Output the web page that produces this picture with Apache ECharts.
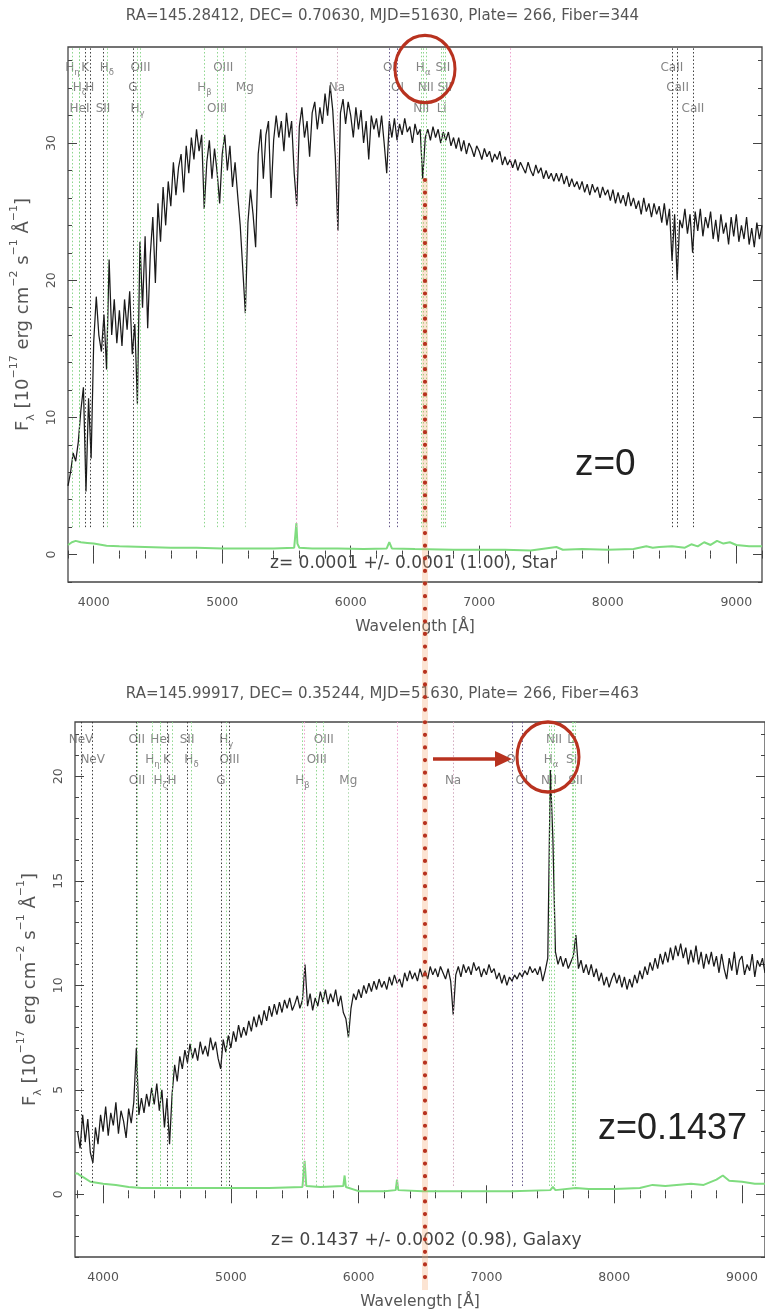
<!DOCTYPE html>
<html><head><meta charset="utf-8">
<script src="https://cdn.jsdelivr.net/npm/echarts@6/dist/echarts.min.js"></script>
<style>html,body{margin:0;padding:0;background:#fff}#c{width:765px;height:1311px}</style>
</head><body><div id="c"></div>
<script>
// ---------------- DATA ----------------
const TITLE_STAR = 'RA=145.28412, DEC= 0.70630, MJD=51630, Plate= 266, Fiber=344';
const TITLE_GALAXY = 'RA=145.99917, DEC= 0.35244, MJD=51630, Plate= 266, Fiber=463';
const FIT_STAR = 'z= 0.0001 +/- 0.0001 (1.00), Star';
const FIT_GALAXY = 'z= 0.1437 +/- 0.0002 (0.98), Galaxy';
const NOTE_STAR = 'z=0';
const NOTE_GALAXY = 'z=0.1437';
const Z_STAR = 0.0001, Z_GALAXY = 0.1437;

// flux sampled every 20 Å starting at 3800 Å
const WAVE_START = 3800, WAVE_STEP = 20;
const fluxStar = [
 5.0, 6.0, 7.4, 6.8, 8.2, 10.5, 12.2, 4.6, 11.4, 7.0,
 15.5, 18.8, 16.0, 14.8, 17.5, 13.5, 21.5, 16.0, 18.6, 15.4,
 17.8, 15.2, 18.6, 16.4, 19.2, 14.6, 16.8, 11.0, 22.8, 18.0,
 23.2, 16.5, 21.8, 24.6, 19.8, 25.6, 22.8, 26.8, 24.0, 27.2,
 25.4, 28.6, 26.2, 28.2, 29.2, 26.4, 29.8, 27.8, 30.4, 28.8,
 31.0, 29.4, 30.6, 25.2, 28.6, 30.2, 27.4, 29.6, 27.9, 25.6,
 29.2, 30.6, 28.0, 29.8, 26.8, 28.6, 26.2, 24.0, 20.8, 17.6,
 24.2, 26.6, 24.8, 22.4, 29.2, 31.0, 27.4, 30.6, 31.6, 26.0,
 30.2, 32.0, 30.4, 31.6, 29.4, 32.2, 30.4, 31.6, 27.8, 25.4,
 31.2, 32.6, 30.4, 31.6, 29.0, 32.2, 33.0, 31.0, 32.6, 31.4,
 33.6, 32.0, 34.2, 32.4, 29.0, 23.6, 32.2, 33.2, 31.4, 33.0,
 32.0, 30.4, 32.6, 31.0, 32.4, 30.0, 31.6, 28.8, 32.0, 31.0,
 31.8, 30.4, 32.0, 30.0, 27.8, 31.6, 30.4, 31.8, 30.2, 31.4,
 30.6, 31.8, 30.8, 31.2, 30.0, 31.4, 30.6, 31.0, 27.4, 30.4,
 31.0, 30.2, 31.2, 30.4, 31.0, 30.0, 30.8, 30.2, 30.8, 29.8,
 30.4, 29.6, 30.4, 29.4, 30.2, 29.2, 30.0, 29.6, 29.0, 29.8,
 29.4, 28.8, 29.6, 29.0, 29.4, 28.6, 29.2, 28.8, 29.4, 28.4,
 29.0, 28.4, 28.8, 28.2, 28.8, 28.0, 28.6, 28.2, 27.8, 28.6,
 28.0, 27.6, 28.4, 27.8, 28.2, 27.4, 28.0, 27.4, 27.8, 27.2,
 27.8, 27.2, 27.8, 27.0, 27.6, 26.8, 27.4, 26.8, 27.2, 26.6,
 27.2, 26.4, 27.0, 26.2, 27.0, 26.4, 26.8, 26.0, 26.8, 26.2,
 26.6, 25.8, 26.6, 25.6, 26.4, 25.6, 26.2, 25.4, 26.4, 25.4,
 26.0, 25.2, 25.8, 24.8, 26.0, 25.0, 25.6, 24.6, 25.6, 24.8,
 25.4, 24.2, 25.6, 24.0, 25.2, 21.4, 24.8, 20.0, 24.4, 23.8,
 25.2, 23.4, 24.8, 22.0, 25.0, 23.6, 25.2, 23.2, 24.6, 23.8,
 25.0, 23.0, 24.4, 22.8, 24.8, 23.4, 24.2, 22.6, 24.6, 23.2,
 24.8, 22.8, 24.0, 23.0, 24.6, 22.6, 23.8, 22.4, 24.2, 23.0,
 24.0
];
const fluxGalaxy = [
 3.0, 2.2, 3.8, 2.5, 3.6, 2.0, 1.5, 3.2, 2.4, 3.8,
 3.0, 4.2, 2.8, 3.9, 3.3, 4.4, 2.9, 4.0, 3.5, 2.7,
 4.1, 3.4, 4.4, 7.0, 3.8, 4.6, 3.9, 4.8, 4.2, 5.1,
 4.3, 5.3, 4.0, 5.0, 3.2, 4.6, 2.4, 4.8, 6.2, 5.4,
 6.6, 6.0, 6.9, 6.3, 7.2, 6.5, 7.0, 6.4, 7.3, 6.7,
 7.1, 6.6, 7.5, 6.9, 7.3, 6.5, 6.0, 7.4, 6.8, 7.6,
 7.0, 7.8, 7.3, 8.1, 7.5, 8.0, 7.6, 8.3, 7.8, 8.5,
 8.0, 8.6, 8.1, 8.8, 8.3, 9.0, 8.5, 9.1, 8.6, 9.2,
 8.7, 9.3, 8.9, 9.4, 8.8, 9.1, 9.5, 8.9, 9.3, 11.0,
 9.0, 9.6, 8.8, 9.4, 9.0, 9.7, 9.2, 9.8, 9.1, 9.6,
 9.2, 9.8, 9.0, 9.5, 8.7, 8.4, 7.5, 8.9, 9.6, 9.3,
 9.8, 9.4, 10.0, 9.6, 10.1, 9.7, 10.2, 9.8, 10.3, 9.9,
 10.2, 9.8, 10.4, 10.0, 10.5, 10.1, 10.3, 9.9, 10.6, 10.2,
 10.7, 10.3, 10.6, 10.2, 10.8, 10.4, 10.7, 10.3, 10.9, 10.5,
 10.8, 10.4, 10.9, 10.6, 10.3, 10.8, 10.2, 8.6, 10.5, 10.9,
 10.4, 11.0, 10.6, 10.9, 10.5, 11.1, 10.7, 10.9, 10.4, 10.8,
 10.5, 11.0, 10.6, 10.8, 10.3, 10.6, 10.1, 10.5, 10.0, 10.4,
 10.2, 10.5, 10.3, 10.6, 10.4, 10.7, 10.5, 10.9, 10.6, 10.8,
 10.5, 10.9, 10.2, 10.7, 11.3, 20.3, 17.0, 11.6, 11.0, 11.4,
 10.9, 11.3, 10.8, 11.1, 11.4, 12.4, 10.8, 11.2, 10.6, 11.0,
 10.5, 11.0, 10.4, 10.8, 10.2, 10.6, 10.0, 10.4, 9.9, 10.3,
 10.6, 10.1, 10.5, 9.9, 10.4, 9.8, 10.3, 9.9, 10.5, 10.1,
 10.7, 10.3, 10.9, 10.5, 11.1, 10.7, 11.3, 10.8, 11.5, 11.0,
 11.6, 11.1, 11.8, 11.2, 11.9, 11.4, 12.0, 11.3, 11.8, 11.0,
 11.7, 11.1, 11.9, 11.0, 11.6, 10.8, 11.5, 11.0, 11.6, 10.9,
 11.4, 10.6, 11.5, 10.8, 10.3, 11.3, 10.7, 11.6, 10.5, 11.2,
 11.4, 10.5, 11.0, 10.7, 11.5, 10.4, 11.2, 10.9, 11.3, 10.6,
 11.0
];
// error spectra (green)
const errStarWave = [3800,3830,3860,3900,3950,4000,4100,4200,4400,4600,4800,5000,5200,5400,5560,5577,5585,5600,5700,5900,6100,6280,6300,6320,6500,6800,7000,7200,7400,7600,7650,7800,8000,8200,8300,8350,8400,8500,8600,8650,8700,8750,8800,8850,8900,8950,9000,9100,9200];
const errStar     = [0.7,0.9,1.0,0.9,0.85,0.8,0.65,0.6,0.55,0.5,0.5,0.45,0.45,0.45,0.5,2.3,0.8,0.5,0.45,0.45,0.4,0.45,0.9,0.45,0.4,0.35,0.35,0.35,0.3,0.55,0.35,0.4,0.35,0.4,0.6,0.5,0.55,0.6,0.5,0.75,0.6,0.9,0.7,1.0,0.8,0.9,0.7,0.6,0.6];
const errGalaxyWave = [3780,3800,3820,3850,3900,4000,4100,4200,4300,4500,4700,5000,5300,5560,5577,5590,5700,5880,5890,5900,6000,6200,6290,6300,6310,6500,6800,7000,7200,7500,7520,7540,7700,7800,8000,8200,8300,8400,8600,8700,8800,8850,8900,9000,9100,9180];
const errGalaxy     = [1.0,1.0,0.9,0.8,0.6,0.5,0.45,0.35,0.3,0.3,0.3,0.3,0.3,0.35,1.6,0.4,0.35,0.4,0.9,0.35,0.15,0.15,0.2,0.7,0.2,0.15,0.15,0.15,0.15,0.2,0.35,0.2,0.3,0.25,0.25,0.3,0.45,0.4,0.5,0.45,0.7,0.9,0.65,0.6,0.5,0.5];

// spectral line labels: [label, rest wavelength (Å), kind]
const starRows = [
 [['H_η',3835,'em'],['K',3934,'abs'],['H_δ',4102,'em'],['OIII',4363,'em'],['OIII',5007,'em'],['OI',6300,'oi'],['H_α',6563,'em'],['SII',6716,'em'],['CaII',8498,'abs']],
 [['H_ζ',3889,'em'],['H',3969,'abs'],['G',4304,'abs'],['H_β',4861,'em'],['Mg',5175,'mg'],['Na',5892,'na'],['OI',6363,'oi'],['NII',6583,'em'],['SII',6731,'em'],['CaII',8542,'abs']],
 [['HeI',3889,'em'],['SII',4072,'abs'],['H_γ',4340,'em'],['OIII',4959,'em'],['NII',6548,'em'],['Li',6707,'em'],['CaII',8662,'abs']]
];
const galaxyRows = [
 [['NeV',3346,'abs'],['OII',3727,'abs'],['HeI',3889,'em'],['SII',4072,'abs'],['H_γ',4340,'em'],['OIII',5007,'em'],['NII',6583,'em'],['Li',6707,'em']],
 [['NeV',3426,'abs'],['H_η',3835,'em'],['K',3934,'abs'],['H_δ',4102,'em'],['OIII',4363,'abs'],['OIII',4959,'em'],['OI',6300,'oi'],['H_α',6563,'em'],['SII',6716,'em']],
 [['OII',3729,'em'],['H_ζ',3889,'em'],['H',3969,'em'],['G',4304,'abs'],['H_β',4861,'em'],['Mg',5175,'mg'],['Na',5892,'na'],['OI',6363,'oi'],['NII',6548,'em'],['SII',6731,'em']]
];
const starSky = [5577, 7245];
const galaxySky = [5577, 6300];

// tick values / labels
const xMajorTicks = [4000,5000,6000,7000,8000,9000];
const xMinorTicks = [3800,4000,4200,4400,4600,4800,5000,5200,5400,5600,5800,6000,6200,6400,6600,6800,7000,7200,7400,7600,7800,8000,8200,8400,8600,8800,9000,9200];
const yStarMajor = [0,10,20,30];
const yStarMinor = [-2,0,2,4,6,8,10,12,14,16,18,20,22,24,26,28,30,32,34,36];
const yGalaxyMajor = [0,5,10,15,20];
const yGalaxyMinor = [-3,-2,-1,0,1,2,3,4,5,6,7,8,9,10,11,12,13,14,15,16,17,18,19,20,21,22];
const X_NAME = 'Wavelength [Å]';
const Y_NAME = '{t|F}{sb|λ}{t| [10}{sp|−17}{t| erg cm}{sp|−2}{t| s}{sp|−1}{t| Å}{sp|−1}{t|]}';

// ---------------- CHART ----------------
const FONT = "'DejaVu Sans', sans-serif";
const TXT = '#555';
const LBL = '#666';
const KIND_COLOR = {em:'#86d486', abs:'#333333', oi:'#5c4c82', na:'#cfa3b8', mg:'#a6d6a6', sky:'#ec9ccb'};

const PANELS = [
 {flux: fluxStar, errW: errStarWave, err: errStar, z: Z_STAR, rows: starRows, sky: starSky,
  rowY: [35.5, 34.05, 32.5], lineLo: 2.0, xMin: 3800, xMax: 9200, yMin: -2, yMax: 37,
  yMaj: yStarMajor, yMinT: yStarMinor, grid: {left: 68, top: 47, width: 694, height: 535}},
 {flux: fluxGalaxy, errW: errGalaxyWave, err: errGalaxy, z: Z_GALAXY, rows: galaxyRows, sky: galaxySky,
  rowY: [21.75, 20.78, 19.78], lineLo: 0.4, xMin: 3780, xMax: 9180, yMin: -3, yMax: 22.6,
  yMaj: yGalaxyMajor, yMinT: yGalaxyMinor, grid: {left: 75, top: 722, width: 693, height: 537}}
];

function tickAxis(kind, g, p, pos, ticks, len, labels, name) {
  const isX = kind === 'x';
  const ax = {
    type: 'value', gridIndex: g, position: pos,
    min: isX ? p.xMin : p.yMin, max: isX ? p.xMax : p.yMax,
    axisLine: {show: false}, splitLine: {show: false},
    axisTick: {show: true, inside: true, length: len, customValues: ticks, lineStyle: {color: '#444', width: 1}},
    axisLabel: {show: false}
  };
  if (labels) {
    ax.axisLabel = {show: true, customValues: labels, color: TXT, fontSize: 12.5, fontFamily: FONT,
      margin: isX ? 14 : 10, rotate: isX ? 0 : 90, formatter: v => String(v)};
  }
  if (name) {
    ax.name = name; ax.nameLocation = 'middle';
    if (isX) {
      ax.nameGap = 37;
      ax.nameTextStyle = {color: TXT, fontSize: 15.5, fontFamily: FONT};
    } else {
      ax.nameGap = 28; ax.nameRotate = 90;
      ax.nameTextStyle = {color: TXT, fontFamily: FONT, rich: {
        t: {fontSize: 18, lineHeight: 28, color: TXT, fontFamily: FONT},
        sp: {fontSize: 11, lineHeight: 11, verticalAlign: 'top', color: TXT, fontFamily: FONT},
        sb: {fontSize: 11, lineHeight: 11, verticalAlign: 'bottom', color: TXT, fontFamily: FONT}
      }};
    }
  }
  return ax;
}

function richName(s) {
  const i = s.indexOf('_');
  if (i < 0) return '{n|' + s + '}';
  return '{n|' + s.slice(0, i) + '}{s|' + s.slice(i + 1) + '}';
}

const grids = [], xAxes = [], yAxes = [], series = [];
PANELS.forEach((p, g) => {
  grids.push(Object.assign({show: true, borderColor: '#454545', borderWidth: 1.3, backgroundColor: 'transparent'}, p.grid));
  const xi = xAxes.length, yi = yAxes.length;
  xAxes.push(tickAxis('x', g, p, 'bottom', xMinorTicks, 4, xMajorTicks, X_NAME));
  xAxes.push(tickAxis('x', g, p, 'bottom', xMajorTicks, 9));
  xAxes.push(tickAxis('x', g, p, 'top', xMinorTicks, 4));
  xAxes.push(tickAxis('x', g, p, 'top', xMajorTicks, 9));
  yAxes.push(tickAxis('y', g, p, 'left', p.yMinT, 4, p.yMaj, Y_NAME));
  yAxes.push(tickAxis('y', g, p, 'left', p.yMaj, 9));
  yAxes.push(tickAxis('y', g, p, 'right', p.yMinT, 4));
  yAxes.push(tickAxis('y', g, p, 'right', p.yMaj, 9));

  // vertical marker lines
  const marks = [];
  p.rows.forEach(row => row.forEach(([nm, rest, kind]) => marks.push({w: rest * (1 + p.z), kind})));
  p.sky.forEach(w => marks.push({w, kind: 'sky'}));
  const mlData = marks.filter(m => m.w > p.xMin && m.w < p.xMax).map(m => [
    {coord: [m.w, p.lineLo], lineStyle: {color: KIND_COLOR[m.kind], width: 1, type: [1.5, 2.2], opacity: 0.95}},
    {coord: [m.w, p.yMax]}
  ]);
  series.push({type: 'line', xAxisIndex: xi, yAxisIndex: yi, data: [], z: 1, silent: true,
    markLine: {silent: true, symbol: 'none', animation: false, label: {show: false}, data: mlData}});

  series.push({type: 'line', xAxisIndex: xi, yAxisIndex: yi, z: 2, silent: true, symbol: 'none', showSymbol: false,
    lineStyle: {color: '#7fdc7f', width: 2}, data: p.errW.map((w, i) => [w, p.err[i]])});
  series.push({type: 'line', xAxisIndex: xi, yAxisIndex: yi, z: 3, silent: true, symbol: 'none', showSymbol: false,
    lineStyle: {color: '#1a1a1a', width: 1.25}, data: p.flux.map((v, i) => [WAVE_START + i * WAVE_STEP, v])});

  p.rows.forEach((row, r) => {
    series.push({type: 'scatter', xAxisIndex: xi, yAxisIndex: yi, z: 4, silent: true, symbolSize: 1,
      itemStyle: {color: 'rgba(0,0,0,0)'},
      data: row.map(([nm, rest]) => ({name: nm, value: [rest * (1 + p.z), p.rowY[r]]})),
      label: {show: true, position: 'inside', formatter: q => richName(q.name),
        rich: {n: {fontSize: 12, lineHeight: 19, color: LBL, fontFamily: FONT},
               s: {fontSize: 8.5, lineHeight: 8, verticalAlign: 'bottom', color: LBL, fontFamily: FONT}}}
    });
  });
});

const RED = '#b8321f';
const option = {
  animation: false,
  backgroundColor: '#fff',
  title: [
    {text: TITLE_STAR, left: 'center', top: 4, textStyle: {color: TXT, fontSize: 15, fontWeight: 'normal', fontFamily: FONT}},
    {text: TITLE_GALAXY, left: 'center', top: 682, textStyle: {color: TXT, fontSize: 15, fontWeight: 'normal', fontFamily: FONT}}
  ],
  grid: grids, xAxis: xAxes, yAxis: yAxes, series: series,
  graphic: [
    {type: 'text', left: 270, top: 555, z: 10, style: {text: FIT_STAR, fill: '#444', font: '17px ' + FONT}},
    {type: 'text', left: 271, top: 1232, z: 10, style: {text: FIT_GALAXY, fill: '#444', font: '17px ' + FONT}},
    {type: 'text', left: 575, top: 446, z: 10, style: {text: NOTE_STAR, fill: '#222', font: "37px 'Liberation Sans', sans-serif"}},
    {type: 'text', left: 598, top: 1111, z: 10, style: {text: NOTE_GALAXY, fill: '#222', font: "36px 'Liberation Sans', sans-serif"}},
    {type: 'line', z: 20, shape: {x1: 425, y1: 178, x2: 425, y2: 1290}, style: {stroke: 'rgba(245,165,110,0.3)', lineWidth: 6}},
    {type: 'line', z: 21, shape: {x1: 425, y1: 180, x2: 425, y2: 1288}, style: {stroke: RED, lineWidth: 4.2, lineDash: [0.01, 12.6], lineCap: 'round'}},
    {type: 'circle', z: 22, x: 425, y: 69, scaleY: 1.12, shape: {cx: 0, cy: 0, r: 30}, style: {fill: 'none', stroke: RED, lineWidth: 3, strokeNoScale: true}},
    {type: 'circle', z: 22, x: 548, y: 757, scaleY: 1.13, shape: {cx: 0, cy: 0, r: 31}, style: {fill: 'none', stroke: RED, lineWidth: 3, strokeNoScale: true}},
    {type: 'line', z: 22, shape: {x1: 433, y1: 759, x2: 498, y2: 759}, style: {stroke: RED, lineWidth: 3.5}},
    {type: 'polygon', z: 22, shape: {points: [[495, 751], [512, 759], [495, 767]]}, style: {fill: RED}}
  ]
};

const chart = echarts.init(document.getElementById('c'), null, {renderer: 'canvas'});
chart.setOption(option);
</script>
</body></html>
